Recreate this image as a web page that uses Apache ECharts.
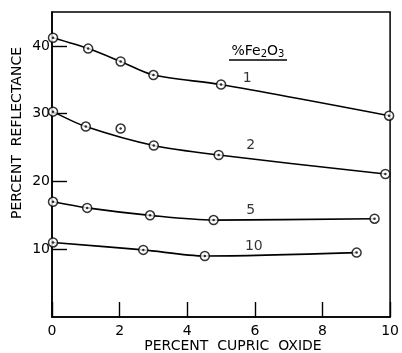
<!doctype html>
<html>
<head>
<meta charset="utf-8">
<title>Reflectance vs cupric oxide</title>
<script src="https://cdn.jsdelivr.net/npm/echarts@6/dist/echarts.min.js"></script>
<style>
  html, body { margin: 0; padding: 0; background: #fff; }
  #main { width: 402px; height: 353px; }
</style>
</head>
<body>
<div id="main"></div>
<script>
// percent Fe2O3 curves
var fe1X = [0.03, 1.07, 2.03, 3.0, 5.0, 9.97];
var fe1Y = [41.2, 39.6, 37.7, 35.7, 34.3, 29.7];

var fe2X = [0.03, 1.0, 2.03, 3.01, 4.93, 9.86];
var fe2Y = [30.3, 28.1, 27.8, 25.3, 23.9, 21.1];
var fe2OnCurve = [true, true, false, true, true, true]; // the 2% point at x=2 sits off the line

var fe5X = [0.03, 1.04, 2.9, 4.78, 9.54];
var fe5Y = [17.0, 16.1, 15.0, 14.3, 14.5];

var fe10X = [0.03, 2.7, 4.52, 9.01];
var fe10Y = [11.0, 9.9, 9.0, 9.5];

var curveLabels = ['1', '2', '5', '10'];
var curveLabelX = [5.77, 5.88, 5.88, 5.97];
var curveLabelY = [35.2, 25.3, 15.8, 10.4];

var xTicks = [0, 2, 4, 6, 8, 10];
var yTicks = [10, 20, 30, 40];

var FONT = 'DejaVu Sans';

function pairs(xs, ys, keep) {
  var out = [];
  for (var i = 0; i < xs.length; i++) {
    if (!keep || keep[i]) out.push([xs[i], ys[i]]);
  }
  return out;
}

var curves = [
  { pts: pairs(fe1X, fe1Y), line: pairs(fe1X, fe1Y) },
  { pts: pairs(fe2X, fe2Y), line: pairs(fe2X, fe2Y, fe2OnCurve) },
  { pts: pairs(fe5X, fe5Y), line: pairs(fe5X, fe5Y) },
  { pts: pairs(fe10X, fe10Y), line: pairs(fe10X, fe10Y) }
];

var series = [];
curves.forEach(function (c) {
  series.push({
    type: 'line',
    data: c.line,
    smooth: 0.3,
    showSymbol: false,
    silent: true,
    lineStyle: { color: '#000', width: 1.6 },
    z: 2
  });
  series.push({
    type: 'scatter',
    data: c.pts,
    symbol: 'circle',
    symbolSize: 9,
    itemStyle: { color: '#fff', borderColor: '#000', borderWidth: 1.5 },
    z: 3
  });
  series.push({
    type: 'scatter',
    data: c.pts,
    symbol: 'circle',
    symbolSize: 2.5,
    itemStyle: { color: '#000' },
    z: 4
  });
});

// curve numbers placed in data space
series.push({
  type: 'scatter',
  symbolSize: 0,
  silent: true,
  data: curveLabels.map(function (t, i) {
    return { value: [curveLabelX[i], curveLabelY[i]], name: t };
  }),
  label: {
    show: true,
    position: 'inside',
    formatter: '{b}',
    color: '#000',
    fontFamily: FONT,
    fontSize: 14
  },
  z: 5
});

var chart = echarts.init(document.getElementById('main'));

chart.setOption({
  animation: false,
  backgroundColor: '#fff',
  grid: {
    left: 52,
    right: 5,
    top: 12,
    bottom: 36,
    show: true,
    borderColor: '#000',
    borderWidth: 1.5
  },
  xAxis: {
    type: 'value',
    min: 0,
    max: 10,
    interval: 2,
    splitLine: { show: false },
    axisLine: { lineStyle: { color: '#000', width: 1.6 } },
    axisTick: { inside: true, length: 15, lineStyle: { color: '#000', width: 1.4 } },
    axisLabel: {
      color: '#000',
      fontFamily: FONT,
      fontSize: 14,
      margin: 7,
      customValues: xTicks
    }
  },
  yAxis: {
    type: 'value',
    min: 0,
    max: 45,
    interval: 5,
    splitLine: { show: false },
    axisLine: { lineStyle: { color: '#000', width: 1.6 } },
    axisTick: { inside: true, length: 15, customValues: yTicks, lineStyle: { color: '#000', width: 1.4 } },
    axisLabel: {
      color: '#000',
      fontFamily: FONT,
      fontSize: 14,
      margin: 2,
      customValues: yTicks
    }
  },
  graphic: [
    {
      type: 'text',
      x: 17,
      y: 133,
      rotation: Math.PI / 2,
      style: {
        text: 'PERCENT  REFLECTANCE',
        fill: '#000',
        font: '14px "DejaVu Sans"',
        textAlign: 'center',
        textVerticalAlign: 'middle'
      }
    },
    {
      type: 'text',
      x: 233,
      y: 346,
      style: {
        text: 'PERCENT  CUPRIC  OXIDE',
        fill: '#000',
        font: '14px "DejaVu Sans"',
        textAlign: 'center',
        textVerticalAlign: 'middle'
      }
    },
    {
      type: 'text',
      x: 258,
      y: 51,
      style: {
        text: '%Fe{s|2}O{s|3}',
        rich: { s: { fontSize: 10, fontFamily: FONT, padding: [6, 0, 0, 0] } },
        fill: '#000',
        font: '14px "DejaVu Sans"',
        textAlign: 'center',
        textVerticalAlign: 'middle'
      }
    },
    {
      type: 'line',
      shape: { x1: 229, y1: 60, x2: 287, y2: 60 },
      style: { stroke: '#000', lineWidth: 1.5 }
    }
  ],
  series: series
});
</script>
</body>
</html>
